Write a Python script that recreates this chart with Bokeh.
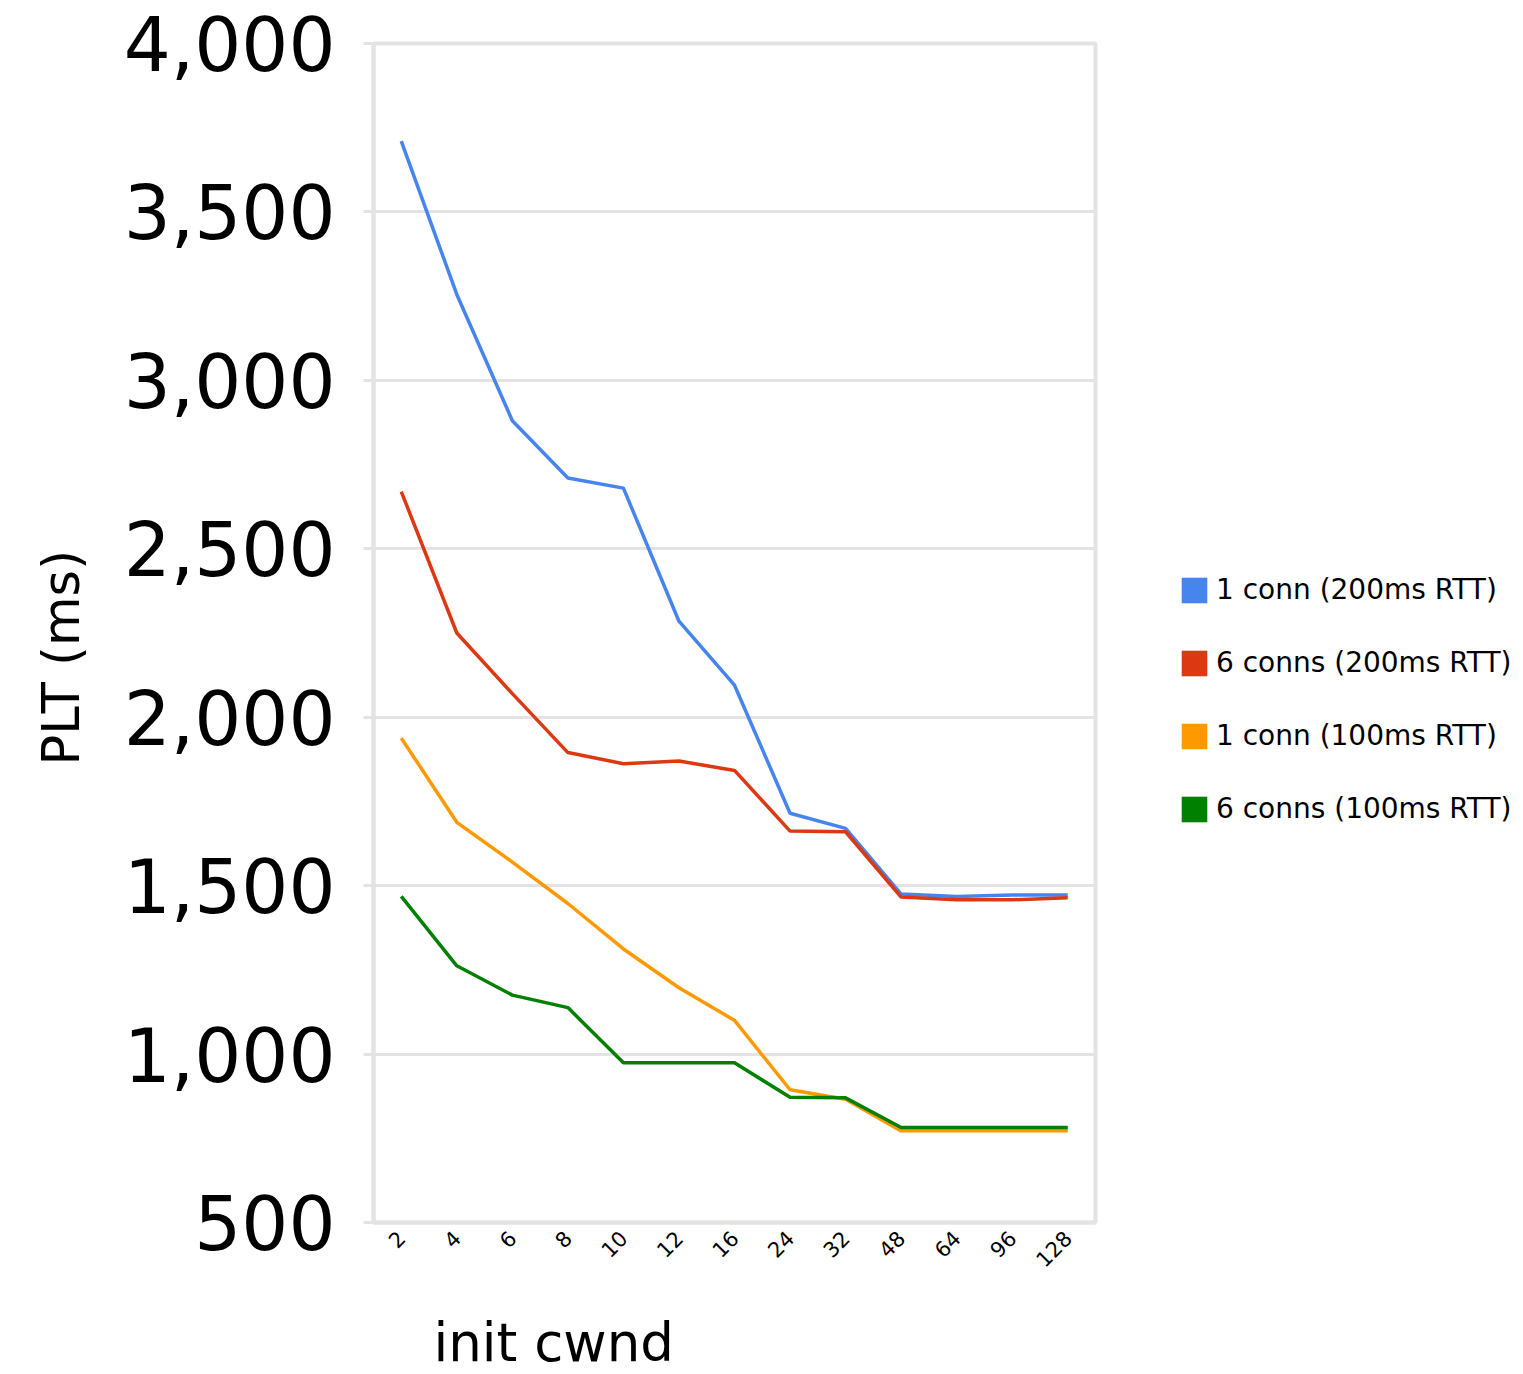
from bokeh.plotting import figure
from bokeh.models import (FactorRange, Range1d, FixedTicker, NumeralTickFormatter,
                          Legend, LegendItem, Title)
from bokeh.embed import file_html
from bokeh.resources import INLINE

cwnd = ["2", "4", "6", "8", "10", "12", "16", "24", "32", "48", "64", "96", "128"]
one_conn_200 = [3710, 3255, 2880, 2710, 2680, 2285, 2095, 1715, 1670, 1475, 1468, 1472, 1472]
six_conns_200 = [2670, 2250, 2070, 1895, 1862, 1870, 1842, 1662, 1660, 1466, 1458, 1458, 1464]
one_conn_100 = [1938, 1688, 1570, 1447, 1312, 1197, 1100, 894, 866, 772, 772, 772, 772]
six_conns_100 = [1468, 1262, 1175, 1138, 974, 974, 974, 872, 870, 782, 782, 782, 782]
series_names = ["1 conn (200ms RTT)", "6 conns (200ms RTT)", "1 conn (100ms RTT)", "6 conns (100ms RTT)"]
series_colors = ["#4684EE", "#DC3912", "#FF9900", "#008000"]
y_ticks = [500, 1000, 1500, 2000, 2500, 3000, 3500, 4000]

FONT = "DejaVu Sans"
GRID = "#e3e3e3"

p = figure(x_range=FactorRange(factors=cwnd, range_padding=0),
           y_range=Range1d(500, 4000),
           frame_width=722, frame_height=1179,
           min_border_left=373, min_border_top=43, min_border_right=0, min_border_bottom=0,
           output_backend="svg", toolbar_location=None)

p.outline_line_color = GRID
p.outline_line_width = 4

p.xgrid.visible = False
p.ygrid.grid_line_color = GRID
p.ygrid.grid_line_width = 3

# y axis
p.yaxis.ticker = FixedTicker(ticks=y_ticks)
p.yaxis.formatter = NumeralTickFormatter(format="0,0")
p.yaxis.major_label_text_font = FONT
p.yaxis.major_label_text_font_size = "74px"
p.yaxis.major_label_text_color = "black"
p.yaxis.major_label_standoff = 28
p.yaxis.major_tick_out = 10
p.yaxis.major_tick_in = 0
p.yaxis.major_tick_line_color = GRID
p.yaxis.major_tick_line_width = 3
p.yaxis.minor_tick_line_color = None
p.yaxis.axis_line_color = GRID
p.yaxis.axis_line_width = 4

p.add_layout(Title(text="PLT (ms)", align="left", offset=457, text_font=FONT,
                   text_font_size="51px", text_font_style="normal",
                   text_color="black", standoff=59), "left")

# x axis
p.xaxis.major_label_orientation = 0.785398
p.xaxis.major_label_text_font = FONT
p.xaxis.major_label_text_font_size = "21px"
p.xaxis.major_label_text_color = "black"
p.xaxis.major_label_standoff = 6
p.xaxis.major_tick_line_color = None
p.xaxis.axis_line_color = GRID
p.xaxis.axis_line_width = 4

p.add_layout(Title(text="init cwnd", align="left", offset=60, text_font=FONT,
                   text_font_size="53px", text_font_style="normal",
                   text_color="black", standoff=64), "below")

data = [one_conn_200, six_conns_200, one_conn_100, six_conns_100]
items = []
for name, color, vals in zip(series_names, series_colors, data):
    p.line(x=cwnd, y=vals, line_color=color, line_width=3.5)
    # hidden bars of the same series, used only for the square legend swatch
    swatch = p.vbar(x=cwnd, top=vals, bottom=500, width=0.5, fill_color=color,
                    line_color=None, visible=False)
    items.append(LegendItem(label=name, renderers=[swatch]))

legend = Legend(items=items, location=(83, 397), border_line_color=None,
                background_fill_alpha=0, margin=0, padding=4,
                glyph_width=32, glyph_height=32, label_height=32,
                label_standoff=6, spacing=40,
                inactive_fill_alpha=0,
                label_text_font=FONT, label_text_font_size="28px",
                label_text_color="black")
p.add_layout(legend, "right")

open("out.html", "w").write(file_html(p, INLINE))
